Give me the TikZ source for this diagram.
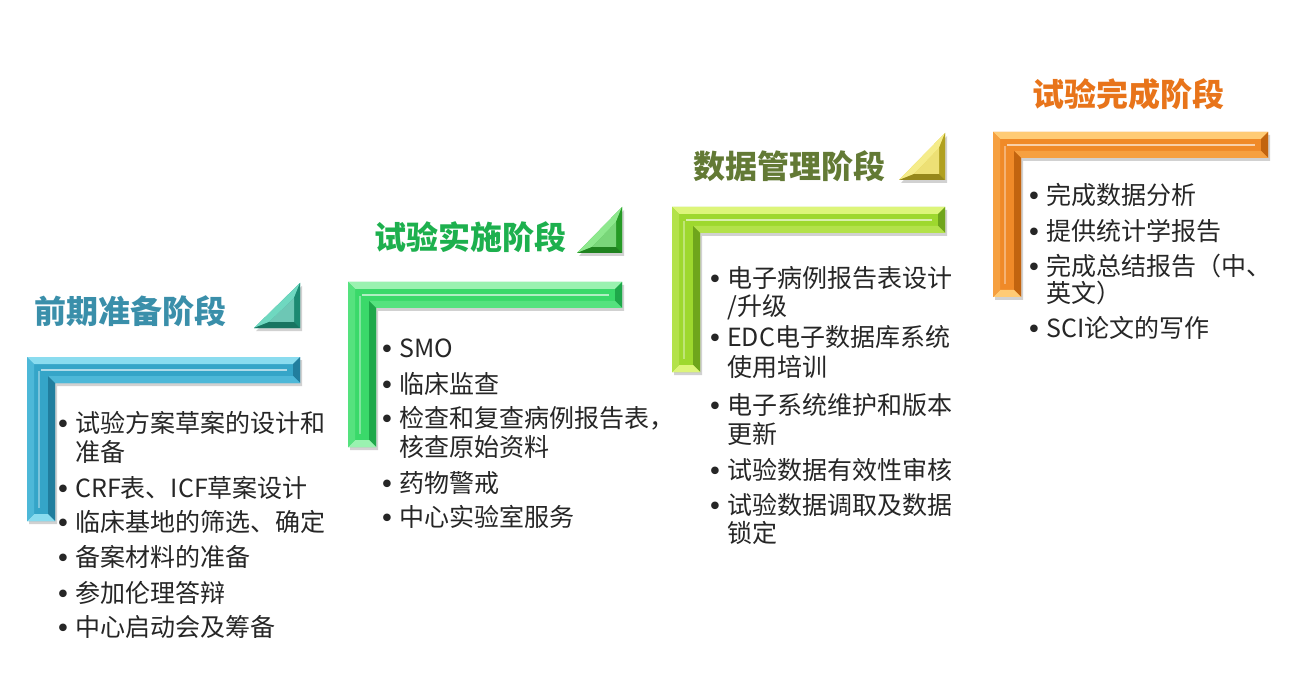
\documentclass[tikz,border=0pt]{standalone}
\usepackage{fontspec}
\setmainfont{Noto Sans CJK SC}
\newfontfamily\bulfont{DejaVu Sans}
\definecolor{bbase}{HTML}{35A5C8}
\definecolor{blight}{HTML}{8ADCEF}
\definecolor{bmid}{HTML}{4DB8D8}
\definecolor{bdark}{HTML}{217E9E}
\definecolor{gbase}{HTML}{3AD96A}
\definecolor{glight}{HTML}{9AF2B0}
\definecolor{gmid}{HTML}{55E27E}
\definecolor{gdark}{HTML}{1EA84A}
\definecolor{ybase}{HTML}{9ED82E}
\definecolor{ylight}{HTML}{DDF57A}
\definecolor{ymid}{HTML}{B3E24A}
\definecolor{ydark}{HTML}{6FA51C}
\definecolor{obase}{HTML}{F08A28}
\definecolor{olight}{HTML}{FFCB75}
\definecolor{omid}{HTML}{F6A040}
\definecolor{odark}{HTML}{C2640F}
\definecolor{tbase}{HTML}{2EAF95}
\definecolor{tlight}{HTML}{6FD8C0}
\definecolor{tdark}{HTML}{1C8A72}
\definecolor{sbase}{HTML}{3FC43F}
\definecolor{slight}{HTML}{8EE88E}
\definecolor{sdark}{HTML}{259A25}
\definecolor{ubase}{HTML}{E6D33A}
\definecolor{ulight}{HTML}{F5EC8A}
\definecolor{udark}{HTML}{B0A020}
\definecolor{tcA}{HTML}{3A8FAA}
\definecolor{tcB}{HTML}{1DB04E}
\definecolor{tcC}{HTML}{637A35}
\definecolor{tcD}{HTML}{E8741A}
\newcommand\drawLframe[5]{%
\fill[black,opacity=.18] ({#1+2},{#2+3}) -- ({#3+2},{#2+3}) -- ({#3+2},{#2+29}) -- ({#1+30},{#2+29}) -- ({#1+30},{#4+3}) -- ({#1+2},{#4+3}) -- cycle;
\fill[#5base] (#1,#2) -- (#3,#2) -- (#3,{#2+26}) -- ({#1+28},{#2+26}) -- ({#1+28},#4) -- (#1,#4) -- cycle;
\fill[#5light] (#1,#2) -- (#3,#2) -- ({#3-7},{#2+7}) -- ({#1+7},{#2+7}) -- cycle;
\fill[#5dark] (#3,#2) -- (#3,{#2+26}) -- ({#3-7},{#2+19}) -- ({#3-7},{#2+7}) -- cycle;
\fill[#5mid] (#3,{#2+26}) -- ({#1+28},{#2+26}) -- ({#1+21},{#2+19}) -- ({#3-7},{#2+19}) -- cycle;
\fill[#5dark] ({#1+28},{#2+26}) -- ({#1+28},#4) -- ({#1+21},{#4-7}) -- ({#1+21},{#2+19}) -- cycle;
\fill[#5light] ({#1+28},#4) -- (#1,#4) -- ({#1+7},{#4-7}) -- ({#1+21},{#4-7}) -- cycle;
\fill[#5mid] (#1,#4) -- (#1,#2) -- ({#1+7},{#2+7}) -- ({#1+7},{#4-7}) -- cycle;
\draw[white,opacity=.6,line width=1.2] ({#1+14},{#2+13}) -- ({#3-13},{#2+13});
\draw[white,opacity=.35,line width=1.2] ({#1+12},{#2+14}) -- ({#1+12},{#4-13});
}
\newcommand\drawTri[5]{%
\fill[black,opacity=.18] ({#1+2},{#2+3}) -- ({#3+2},{#4+3}) -- ({#1+2},{#4+3}) -- cycle;
\fill[#5base] (#1,#2) -- (#3,#4) -- (#1,#4) -- cycle;
\fill[#5light] (#1,#2) -- (#3,#4) -- ({#3+15},{#4-6}) -- ({#1-6},{#2+15}) -- cycle;
\fill[#5dark] (#1,#2) -- (#1,#4) -- ({#1-6},{#4-6}) -- ({#1-6},{#2+15}) -- cycle;
\fill[#5dark!85!black] (#3,#4) -- (#1,#4) -- ({#1-6},{#4-6}) -- ({#3+15},{#4-6}) -- cycle;
\fill[#5base!70!white] ({#1-6},{#2+15}) -- ({#3+15},{#4-6}) -- ({#1-6},{#4-6}) -- cycle;
}
\tikzset{
 body/.style={anchor=west, inner sep=0pt, font=\fontsize{25}{30}\selectfont, text=black!85, text height=22pt, text depth=3pt},
 bul/.style={anchor=center, inner sep=0pt, font=\bulfont\fontsize{26}{30}\selectfont, text=black!85, text height=22pt, text depth=3pt},
 ttl/.style={anchor=center, inner sep=0pt, font=\fontsize{32}{38}\selectfont\bfseries},
}
\newcommand\bitem[4]{\node[bul] (#1b) at ({#2-12},{#3+1}) {•}; \node[body] (#1) at (#2,#3) {#4};}
\newcommand\citem[4]{\node[body] (#1) at (#2,#3) {#4};}
\begin{document}
\begin{tikzpicture}[x=1pt,y=-1pt]
\useasboundingbox (0,0) rectangle (1292,684);
\fill[white] (0,0) rectangle (1292,684);
% frames
\drawLframe{27}{357}{300}{521}{b}
\drawLframe{348}{282}{622}{447}{g}
\drawLframe{672}{207}{945}{372}{y}
\drawLframe{993}{132}{1268}{297}{o}
% triangles
\drawTri{300}{283}{254}{328}{t}
\drawTri{622}{207}{577}{253}{s}
\drawTri{945}{133}{899}{180}{u}
% titles
\node[ttl, text=tcA] (t1) at (130,311) {前期准备阶段};
\node[ttl, text=tcB] (t2) at (470,237) {试验实施阶段};
\node[ttl, text=tcC] (t3) at (789,166) {数据管理阶段};
\node[ttl, text=tcD] (t4) at (1128,94) {试验完成阶段};
% blue items
\bitem{a1}{75}{423}{试验方案草案的设计和}
\citem{a1c}{75}{452}{准备}
\bitem{a2}{75}{488}{CRF表、ICF草案设计}
\bitem{a3}{75}{522}{临床基地的筛选、确定}
\bitem{a4}{75}{557}{备案材料的准备}
\bitem{a5}{75}{593}{参加伦理答辩}
\bitem{a6}{75}{627}{中心启动会及筹备}
% green items
\bitem{b1}{399}{348}{SMO}
\bitem{b2}{399}{384}{临床监查}
\bitem{b3}{399}{418}{检查和复查病例报告表，}
\citem{b3c}{399}{447}{核查原始资料}
\bitem{b4}{399}{483}{药物警戒}
\bitem{b5}{399}{517}{中心实验室服务}
% yellow items
\bitem{c1}{727}{278}{电子病例报告表设计}
\citem{c1c}{727}{306}{/升级}
\bitem{c2}{727}{337}{EDC电子数据库系统}
\citem{c2c}{727}{367}{使用培训}
\bitem{c3}{727}{405}{电子系统维护和版本}
\citem{c3c}{727}{434}{更新}
\bitem{c4}{727}{470}{试验数据有效性审核}
\bitem{c5}{727}{505}{试验数据调取及数据}
\citem{c5c}{727}{533}{锁定}
% orange items
\bitem{d1}{1046}{195}{完成数据分析}
\bitem{d2}{1046}{231}{提供统计学报告}
\bitem{d3}{1046}{266}{完成总结报告（中、}
\citem{d3c}{1046}{293}{英文）}
\bitem{d4}{1046}{328}{SCI论文的写作}
\end{tikzpicture}
\end{document}
